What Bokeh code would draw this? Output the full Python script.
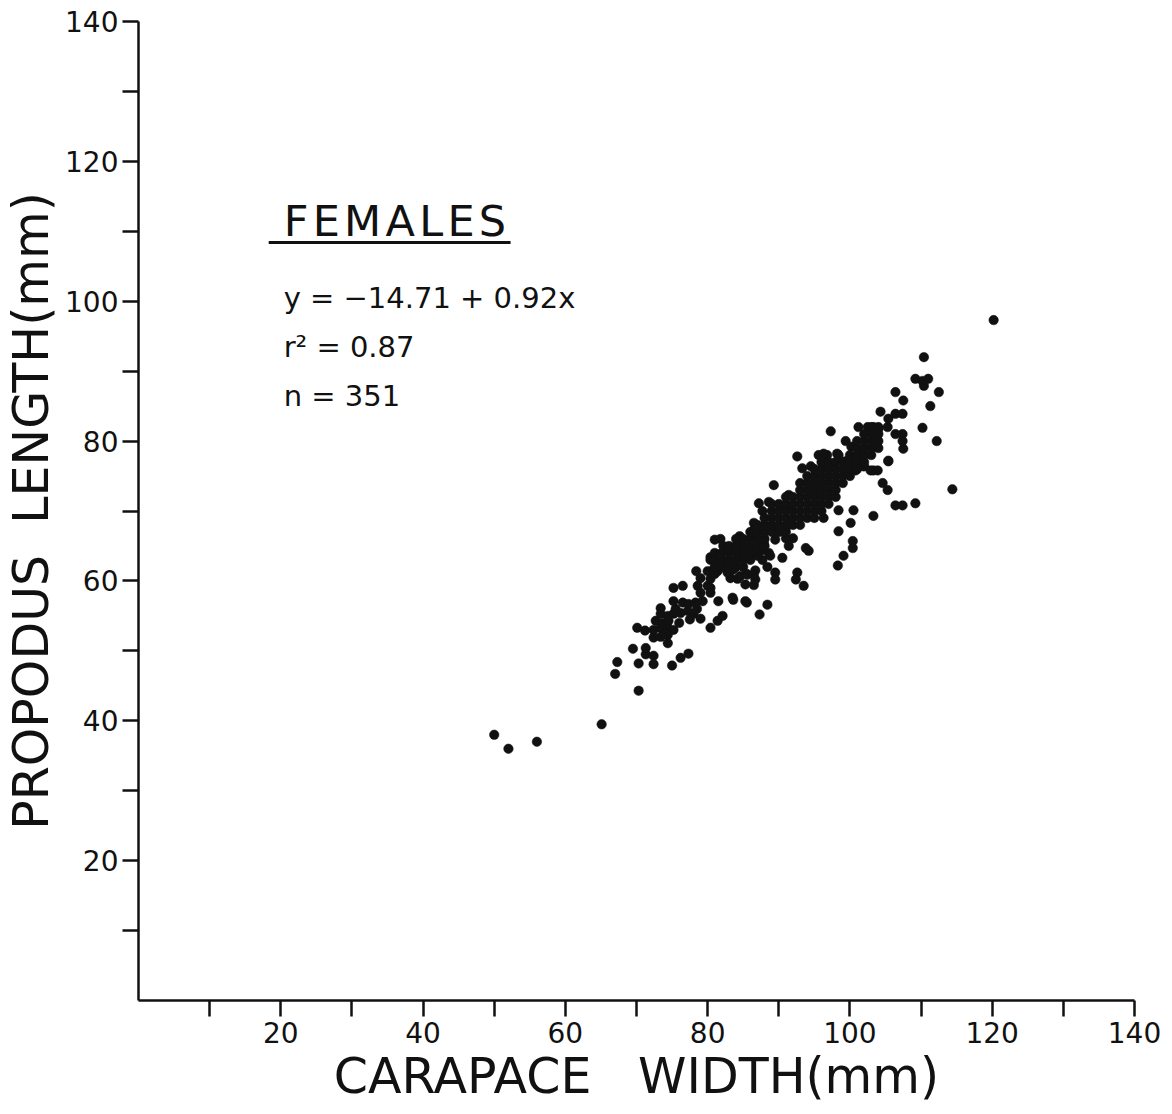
from bokeh.plotting import figure
from bokeh.models import Range1d, FixedTicker, Label
from bokeh.embed import file_html
from bokeh.resources import INLINE

# ---------------- data (mm) ----------------
# sparse small animals and lower part of the cloud (carapace width, propodus length)
pts_small = [(50, 38), (52, 36), (56, 37), (65.1, 39.5), (67, 46.7), (67.3, 48.4),
             (69.5, 50.3), (70.3, 48.2), (70.3, 44.3), (70.1, 53.3), (71.2, 52.9),
             (71.3, 50.4), (71.3, 49.5)]

pts_72_80 = [(72.4, 49.3), (72.4, 48.1), (72.4, 51.9), (72.4, 53.0), (72.7, 54.3),
             (73.4, 53.3), (73.4, 52.0), (73.4, 55.3), (73.4, 56.1), (73.7, 54.0),
             (74.4, 53.3), (74.4, 52.3), (74.4, 55.0), (74.4, 51.1), (74.5, 54.3),
             (75.2, 53.0), (75.2, 55.3), (75.5, 56.0), (75.2, 57.1), (75.0, 47.9),
             (75.2, 59.0), (76.2, 49.0), (76.2, 55.4), (76.5, 56.9), (76.5, 59.3),
             (77.3, 49.6), (77.2, 55.7), (77.3, 56.7), (78.0, 55.3), (78.3, 56.9),
             (78.6, 59.3), (78.4, 61.4), (79.0, 54.6), (79.3, 57.1), (79.0, 58.3),
             (79.0, 60.4), (80.4, 53.3), (80.4, 59.0), (80.4, 58.3), (80.4, 60.3),
             (80.0, 61.4), (80.4, 63.4), (77.5, 54.5), (78.5, 56.0), (76.0, 54.0),
             (74.0, 52.5)]

pts_80_93 = [(81.4, 61.4), (82.8, 61.4), (83.2, 60.4), (84.2, 60.3), (81.4, 54.3),
             (82.1, 55.0), (81.5, 57.1), (83.5, 57.6), (85.3, 57.1), (81.8, 66.0),
             (84.5, 66.4), (82.2, 65.0), (84.3, 65.0), (81.8, 62.6), (85.3, 59.5),
             (86.5, 59.4), (85.5, 61.0), (86.7, 61.5), (86.7, 60.2), (87.7, 63.0),
             (88.6, 64.0), (88.8, 63.6), (90.5, 63.3), (88.4, 62.0), (89.5, 61.2),
             (89.5, 60.2), (92.6, 61.2), (92.4, 60.2), (93.5, 59.3), (87.3, 55.2),
             (88.4, 56.6), (81.0, 65.9), (83.6, 64.4), (85.3, 64.4), (86.5, 64.7),
             (87.7, 64.4), (84.3, 63.3), (85.6, 63.3), (87.0, 63.6), (82.8, 62.6),
             (83.6, 61.6), (82.8, 61.2), (84.6, 60.7), (85.6, 60.9), (86.5, 60.9),
             (84.6, 65.9), (86.5, 68.3), (86.5, 67.3), (86.7, 66.4), (89.5, 65.9),
             (91.0, 66.1), (92.0, 66.1), (87.2, 71.1), (88.6, 71.3), (87.7, 70.0),
             (89.3, 73.7), (91.4, 72.3), (90.5, 70.4), (91.6, 70.4), (94.2, 64.3),
             (93.8, 64.7), (91.4, 65.0), (89.1, 67.3), (90.2, 67.1), (91.2, 67.9),
             (87.9, 65.4), (80.8, 61.6), (80.4, 63.0), (80.0, 59.3), (83.6, 57.3),
             (85.5, 56.9)]

pts_92_120 = [(92.6, 77.8), (95.6, 78.0), (96.8, 78.0), (98.4, 78.0), (93.3, 76.1),
              (94.5, 76.4), (96.8, 76.8), (98.4, 70.1), (96.3, 69.0), (98.4, 67.1),
              (100.1, 68.3), (100.5, 70.1), (100.4, 65.7), (100.4, 64.7), (99.1, 63.6),
              (98.3, 62.2), (96.3, 78.2), (98.2, 78.2), (97.6, 76.8), (99.4, 77.1),
              (100.4, 77.1), (101.2, 77.1), (99.7, 76.1), (101.0, 76.1), (102.0, 76.4),
              (103.3, 75.8), (97.3, 81.4), (99.4, 80.0), (100.2, 79.2), (101.2, 78.7),
              (101.2, 82.0), (102.5, 82.0), (103.3, 82.0), (104.0, 81.7), (105.3, 82.0),
              (104.3, 84.2), (105.4, 83.2), (106.4, 83.9), (107.4, 83.9), (106.4, 87.0),
              (107.5, 85.8), (109.2, 88.9), (110.2, 88.6), (111.0, 88.9), (110.4, 87.9),
              (110.4, 92.0), (112.5, 87.0), (111.3, 85.0), (110.2, 81.9), (112.2, 80.0),
              (107.4, 81.0), (107.4, 80.0), (107.5, 78.9), (106.4, 81.0), (105.4, 77.1),
              (103.9, 75.8), (104.6, 74.0), (105.3, 73.0), (102.9, 75.8), (106.4, 70.8),
              (107.4, 70.8), (109.2, 71.1), (103.3, 69.3), (114.4, 73.1), (120.2, 97.3),
              (105.4, 77.2), (100.8, 75.8), (101.9, 76.4), (99.6, 76.8)]

# dense core of the cloud, by carapace-width column
core_81_88 = [(81, 61), (81, 62), (81, 63), (81, 64), (82, 62), (82, 63), (82, 64),
              (83, 62), (83, 63), (83, 64), (83, 65), (84, 62), (84, 63), (84, 64),
              (84, 65), (84, 66), (85, 62), (85, 63), (85, 64), (85, 65), (85, 66),
              (86, 63), (86, 64), (86, 65), (86, 66), (86, 67), (87, 65), (87, 66),
              (87, 67), (87, 68), (88, 65), (88, 66), (88, 67), (88, 68), (88, 69)]

core_89_93 = [(89, 67), (89, 68), (89, 69), (89, 70), (89, 71), (90, 67), (90, 68),
              (90, 69), (90, 70), (90, 71), (91, 67), (91, 68), (91, 69), (91, 70),
              (91, 71), (91, 72), (92, 68), (92, 69), (92, 70), (92, 71), (92, 72),
              (93, 68), (93, 69), (93, 70), (93, 71), (93, 72), (93, 73), (93, 74)]

core_94_98 = [(94, 69), (94, 70), (94, 71), (94, 72), (94, 73), (94, 74), (94, 75),
              (95, 69), (95, 70), (95, 71), (95, 72), (95, 73), (95, 74), (95, 75),
              (95, 76), (96, 70), (96, 71), (96, 72), (96, 73), (96, 74), (96, 75),
              (96, 76), (96, 77), (97, 71), (97, 72), (97, 73), (97, 74), (97, 75),
              (97, 76), (97, 77), (98, 72), (98, 73), (98, 74), (98, 75), (98, 76),
              (98, 77)]

core_99_104 = [(99, 74), (99, 75), (99, 76), (99, 77), (100, 75), (100, 76), (100, 77),
               (100, 78), (101, 76), (101, 77), (101, 78), (101, 79), (101, 80),
               (102, 77), (102, 78), (102, 79), (102, 80), (102, 81), (103, 78),
               (103, 79), (103, 80), (103, 81), (103, 82), (104, 79), (104, 80),
               (104, 81), (104, 82)]

x_ticks = [10, 20, 30, 40, 50, 60, 70, 80, 90, 100, 110, 120, 130, 140]
y_ticks = [10, 20, 30, 40, 50, 60, 70, 80, 90, 100, 110, 120, 130, 140]
labelled_ticks = [20, 40, 60, 80, 100, 120, 140]

title_text = "\u200a".join("FEMALES")
stats_text = ["y = \u221214.71 + 0.92x", "r\u00b2 = 0.87", "n = 351"]
stats_y = [100.5, 93.4, 86.5]

# ---------------- figure ----------------
all_pts = (pts_small + pts_72_80 + pts_80_93 + pts_92_120 +
           core_81_88 + core_89_93 + core_94_98 + core_99_104)
cw = [a for a, b in all_pts]
pl = [b for a, b in all_pts]

FONT = "DejaVu Sans"

p = figure(width=1172, height=1114, output_backend="svg", toolbar_location=None,
           x_range=Range1d(0, 140), y_range=Range1d(0, 140),
           min_border_left=138, min_border_right=38, min_border_top=21,
           min_border_bottom=114)
p.grid.visible = False
p.outline_line_color = None
p.background_fill_color = "white"
p.border_fill_color = "white"

p.scatter(cw, pl, size=9.5, marker="circle", fill_color="#111111", line_color="#111111",
          line_width=0.5)

for ax, ticks in ((p.xaxis[0], x_ticks), (p.yaxis[0], y_ticks)):
    ax.ticker = FixedTicker(ticks=ticks, minor_ticks=[])
    ax.major_label_overrides = {t: (str(t) if t in labelled_ticks else "") for t in ticks}
    ax.axis_line_width = 2.5
    ax.axis_line_color = "#111111"
    ax.major_tick_line_width = 2.5
    ax.major_tick_line_color = "#111111"
    ax.major_tick_in = 0
    ax.major_tick_out = 16
    ax.minor_tick_out = 0
    ax.minor_tick_in = 0
    ax.major_label_text_font = FONT
    ax.major_label_text_font_size = "28px"
    ax.major_label_text_color = "#111111"
    ax.axis_label_text_font = FONT
    ax.axis_label_text_font_style = "normal"
    ax.axis_label_text_font_size = "49px"
    ax.axis_label_text_color = "#111111"

p.xaxis.major_label_standoff = 5
p.xaxis.axis_label_standoff = 2
p.yaxis.major_label_standoff = 4
p.yaxis.axis_label_standoff = 2
p.yaxis.major_label_orientation = "horizontal"
p.xaxis.axis_label = "CARAPACE\u00a0\u00a0\u00a0WIDTH(mm)"
p.yaxis.axis_label = "PROPODUS\u00a0\u00a0LENGTH(mm)"

p.add_layout(Label(x=20.4, y=111.4, text=title_text, text_font=FONT,
                   text_font_size="43px", text_baseline="middle", text_color="#111111"))
p.segment(x0=[18.3], y0=[108.4], x1=[52.3], y1=[108.4], line_width=3, line_color="#111111")
for t, yy in zip(stats_text, stats_y):
    p.add_layout(Label(x=20.4, y=yy, text=t, text_font=FONT, text_font_size="29px",
                       text_baseline="middle", text_color="#111111"))

open("out.html", "w").write(file_html(p, INLINE))
